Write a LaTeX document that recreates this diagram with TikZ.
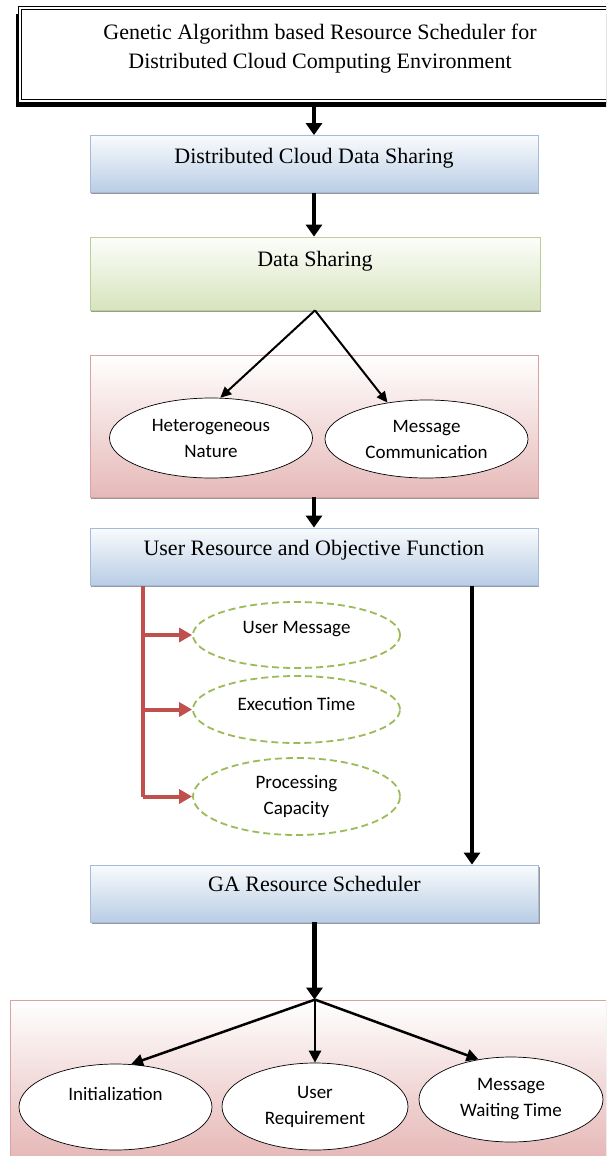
\documentclass[tikz,border=0pt]{standalone}
\usepackage{fontspec}
\setmainfont{Liberation Serif}
\newfontfamily\calfont{Carlito}
\usepackage{tikz}
\usetikzlibrary{arrows.meta,positioning,shadows,shapes.geometric}
\definecolor{SchedBlue}{HTML}{B9CDE5}
\definecolor{SchedBlueLine}{HTML}{A3BCDB}
\definecolor{SchedGreen}{HTML}{D7E4BD}
\definecolor{SchedGreenLine}{HTML}{BCD095}
\definecolor{SchedRose}{HTML}{E6B9B8}
\definecolor{SchedRoseLine}{HTML}{D9A3A2}
\definecolor{SchedOlive}{HTML}{9BBB59}
\definecolor{SchedRed}{HTML}{C0504D}

\begin{document}
\begin{tikzpicture}[x=1pt,y=-1pt,
  boxfont/.style={font=\fontsize{22}{29}\selectfont},
  ovalfont/.style={font=\calfont\fontsize{19}{26}\selectfont},
  shade/.style={drop shadow={shadow xshift=1.2pt,shadow yshift=-1.8pt,fill=gray!80,opacity=1}},
  titlebox/.style={boxfont,align=center,draw=black,double=white,double distance=1.6pt,line width=1.2pt,fill=white,
    minimum width=600pt,minimum height=93pt,text depth=17pt,
    drop shadow={shadow xshift=-4pt,shadow yshift=-6pt,fill=black,opacity=1}},
  bluebox/.style={boxfont,shade,draw=SchedBlueLine,line width=.8pt,top color=white!92!SchedBlue,bottom color=SchedBlue,
    minimum width=448pt,minimum height=57pt,text depth=17pt},
  greenbox/.style={boxfont,shade,draw=SchedGreenLine,line width=.8pt,top color=white!94!SchedGreen,bottom color=SchedGreen,
    minimum width=450pt,minimum height=73pt,text depth=28.5pt},
  panel/.style={shade,draw=SchedRoseLine,line width=.8pt,top color=white,bottom color=SchedRose,inner sep=0pt},
  oval/.style={ellipse,ovalfont,align=center,draw=black,line width=.7pt,fill=white,inner sep=3pt},
  dashoval/.style={ellipse,ovalfont,align=center,draw=SchedOlive,line width=1.8pt,dash pattern=on 7pt off 4pt,inner sep=3pt},
  bigarr/.style={line width=4.5pt,-{Triangle[length=12pt,width=16pt]}},
  thinarr/.style={line width=2pt,-{Triangle[length=11pt,width=10pt]}},
  midarr/.style={line width=2.5pt,-{Triangle[length=12pt,width=12pt]}},
  redarr/.style={SchedRed,line width=4pt,-{Triangle[length=13pt,width=14pt]}}]
\useasboundingbox (0,0) rectangle (606,1156);
\clip (0,0) rectangle (606,1156);
% top part
\node[titlebox] (title) at (320,54.5) {Genetic Algorithm based Resource Scheduler for\\Distributed Cloud Computing Environment};
\node[bluebox] (dcs) at (314,164) {Distributed Cloud Data Sharing};
\node[greenbox] (ds) at (315,273.5) {Data Sharing};
\node[panel,minimum width=448pt,minimum height=142pt] (p1) at (314,426) {};
\node[oval,minimum width=203pt,minimum height=80pt] (hn) at (211,438) {Heterogeneous\\Nature};
\node[oval,minimum width=203pt,minimum height=78pt] (mc) at (426.5,439) {Message\\Communication};
\draw[bigarr] (title.south -| dcs.north) -- (dcs.north);
\draw[bigarr] (dcs.south) -- (dcs.south |- ds.north);
\draw[thinarr] (ds.south) -- (hn.77);
\draw[thinarr] (ds.south) -- (mc.137);
% objective function
\node[bluebox] (urof) at (314,556.5) {User Resource and Objective Function};
\draw[bigarr] (p1.south) -- (urof.north);
\node[dashoval,minimum width=207pt,minimum height=66pt,text depth=15.8pt] (um) at (296.5,635) {User Message};
\node[dashoval,minimum width=207pt,minimum height=67pt,text depth=11.4pt] (et) at (296.5,709.5) {Execution Time};
\node[dashoval,minimum width=207pt,minimum height=77pt] (pc) at (296.5,796.5) {Processing\\Capacity};
\coordinate (rt) at (143,585.5);
\draw[SchedRed,line width=4pt] (rt) -- (rt |- pc.west);
\foreach \o in {um,et,pc}{\draw[redarr] (rt |- \o.west) -- (\o.west);}
% scheduler
\node[bluebox,text depth=18.5pt] (ga) at (314.5,893.5) {GA Resource Scheduler};
\coordinate (bt) at (472,585.5);
\draw[bigarr,line width=4pt] (bt) -- (bt |- ga.north);
\node[panel,minimum width=610pt,minimum height=156pt] (p2) at (315,1078) {};
\node[oval,minimum width=193pt,minimum height=86pt,text depth=27pt] (ini) at (115.5,1107) {Initialization};
\node[oval,minimum width=186pt,minimum height=87pt] (ur) at (315,1106.5) {User\\Requirement};
\node[oval,minimum width=184pt,minimum height=85pt] (mwt) at (511,1099.5) {Message\\Waiting Time};
\draw[bigarr,line width=5.5pt] (ga.south) -- (ga.south |- p2.north);
\draw[midarr] (p2.north) -- (ini.70);
\draw[midarr] (p2.north) -- (ur.north);
\draw[midarr] (p2.north) -- (mwt.129);
\end{tikzpicture}
\end{document}
